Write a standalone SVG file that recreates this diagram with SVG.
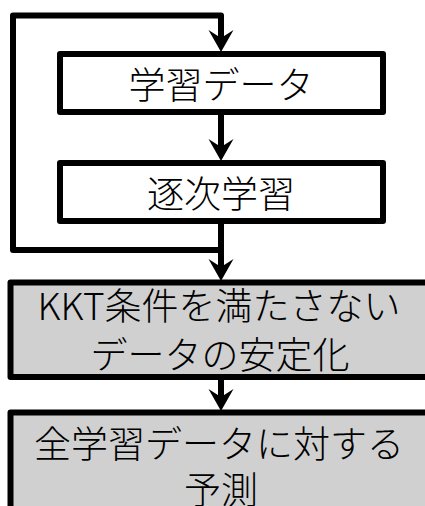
<svg xmlns="http://www.w3.org/2000/svg" width="425" height="506" viewBox="0 0 425 506">
<style>
.box{stroke:#000;stroke-width:6;stroke-linejoin:round}
.w{fill:#fff}
.g{fill:#d0d0d0}
.t{font-family:"Noto Sans CJK JP","Noto Sans CJK SC",sans-serif;font-size:37px;font-weight:300;fill:#000;text-anchor:middle}
.ln{fill:none;stroke:#000;stroke-width:6;stroke-linejoin:round}
.ah{fill:#000}
</style>
<defs>
<path id="head" d="M0,0 L-12.5,-22 L0,-14 L12.5,-22 Z"/>
</defs>
<rect width="425" height="506" fill="#fff"/>
<g id="connectors">
<path class="ln" d="M221,112 V150"/>
<path class="ln" d="M221,221 V250 H13 V15.5 H221 V40"/>
<path class="ln" d="M221,250 V270"/>
<path class="ln" d="M221,377 V400"/>
<use href="#head" class="ah" x="221" y="52"/>
<use href="#head" class="ah" x="221" y="161"/>
<use href="#head" class="ah" x="221" y="281"/>
<use href="#head" class="ah" x="221" y="411"/>
</g>
<g id="n1">
<rect class="box w" x="60" y="54" width="323" height="58"/>
<text class="t" x="221" y="99">学習データ</text>
</g>
<g id="n2">
<rect class="box w" x="60" y="163" width="323" height="58"/>
<text class="t" x="221" y="208">逐次学習</text>
</g>
<g id="n3">
<rect class="box g" x="10.5" y="282.5" width="430" height="94.5"/>
<text class="t" x="219" y="320">KKT条件を満たさない</text>
<text class="t" x="220" y="369">データの安定化</text>
</g>
<g id="n4">
<rect class="box g" x="10.5" y="412.5" width="430" height="110"/>
<text class="t" x="219" y="458">全学習データに対する</text>
<text class="t" x="221" y="504">予測</text>
</g>
</svg>
